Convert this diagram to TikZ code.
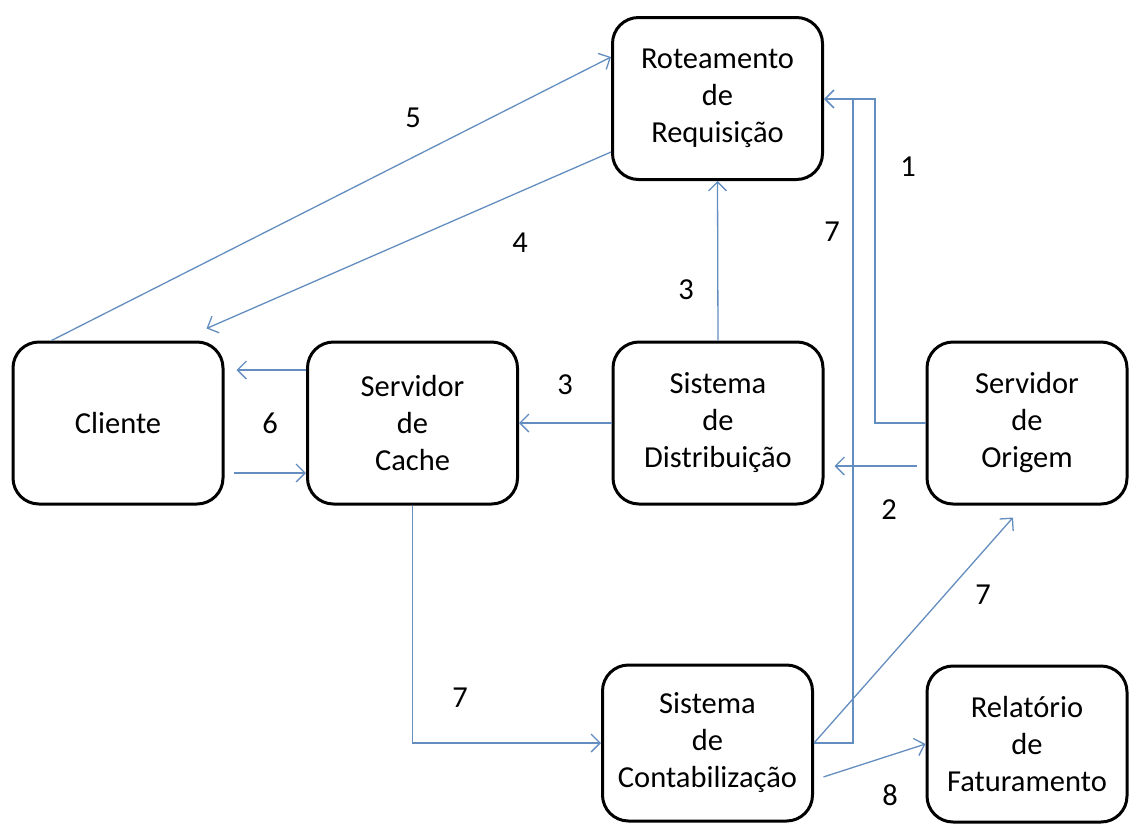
\documentclass[tikz,border=0pt]{standalone}
\usepackage{fontspec}
\setmainfont{Carlito}
\usetikzlibrary{arrows.meta,calc}

\definecolor{seta}{RGB}{100,142,192}

\tikzset{
  caixa/.style={draw=black, line width=3pt, rounded corners=26pt, align=center,
    minimum width=210pt, minimum height=162pt, font=\fontsize{30.5}{37}\selectfont},
  fluxo/.style={draw=seta, line width=1.3pt, -{Straight Barb[length=9pt,width=18pt]}},
  num/.style={font=\fontsize{30.5}{37}\selectfont}
}

\begin{document}
\begin{tikzpicture}[x=1pt, y=-1pt]
\fill[white] (0,0) rectangle (1130,823);
\useasboundingbox (0,0) rectangle (1130,823);
% caixas
\node[caixa] (rot) at (717.5,98.5) {Roteamento\\de\\Requisição};
\node[caixa] (cli) at (118,423) {Cliente};
\node[caixa] (cache) at (412.5,423) {Servidor\\de\\Cache};
\node[caixa] (dist) at (718,423) {Sistema\\de\\Distribuição};
\node[caixa, minimum width=200pt] (orig) at (1027,423) {Servidor\\de\\Origem};
\node[caixa, minimum height=156pt] (cont) at (707.5,743) {Sistema\\de\\Contabilização};
\node[caixa, minimum width=200pt, minimum height=156pt] (rel) at (1027,744) {Relatório\\de\\Faturamento};
% pontos de dobra
\coordinate (k1) at (875,99);
\coordinate (k7) at (853,99);
% setas
\draw[fluxo] (orig.west) -| (k1) -- (k1 -| rot.east);
\draw[fluxo] (cont.east) -| (k7) -- (k7 -| rot.east);
\draw[fluxo, shorten <=9pt, shorten >=10pt] ([yshift=-43pt]orig.west) -- ([yshift=-43pt]dist.east);
\draw[fluxo] (dist.north) -- (rot.south);
\draw[fluxo] (dist.west) -- (cache.east);
\draw[fluxo] ([yshift=-53.5pt]rot.west) -- ($(cli.north east)+(-18,-12)$);
\draw[fluxo] ($(cli.north west)+(40,0)$) -- ([yshift=41.5pt]rot.west);
\draw[fluxo, shorten >=12pt] ([yshift=53pt]cache.west) -- ([yshift=53pt]cli.east);
\draw[fluxo, shorten <=9pt] ([yshift=-50pt]cli.east) -- ([yshift=-50pt]cache.west);
\draw[fluxo] (cache.south) |- (cont.west);
\draw[fluxo] (cont.east) -- ($(orig.south)+(-14,12)$);
\draw[fluxo, shorten <=10pt] ([yshift=-37pt]cont.east) -- (rel.west);
% numeros
\node[num] (n5) at (413,118) {5};
\node[num] (n4) at (520,243) {4};
\node[num] (n3a) at (686,290) {3};
\node[num] (n1) at (908,167) {1};
\node[num] (n7a) at (832,232) {7};
\node[num] (n6) at (270,423) {6};
\node[num] (n3b) at (565,385) {3};
\node[num] (n2) at (889,510) {2};
\node[num] (n7b) at (983,595) {7};
\node[num] (n7c) at (460,698) {7};
\node[num] (n8) at (890,795) {8};
\end{tikzpicture}
\end{document}
